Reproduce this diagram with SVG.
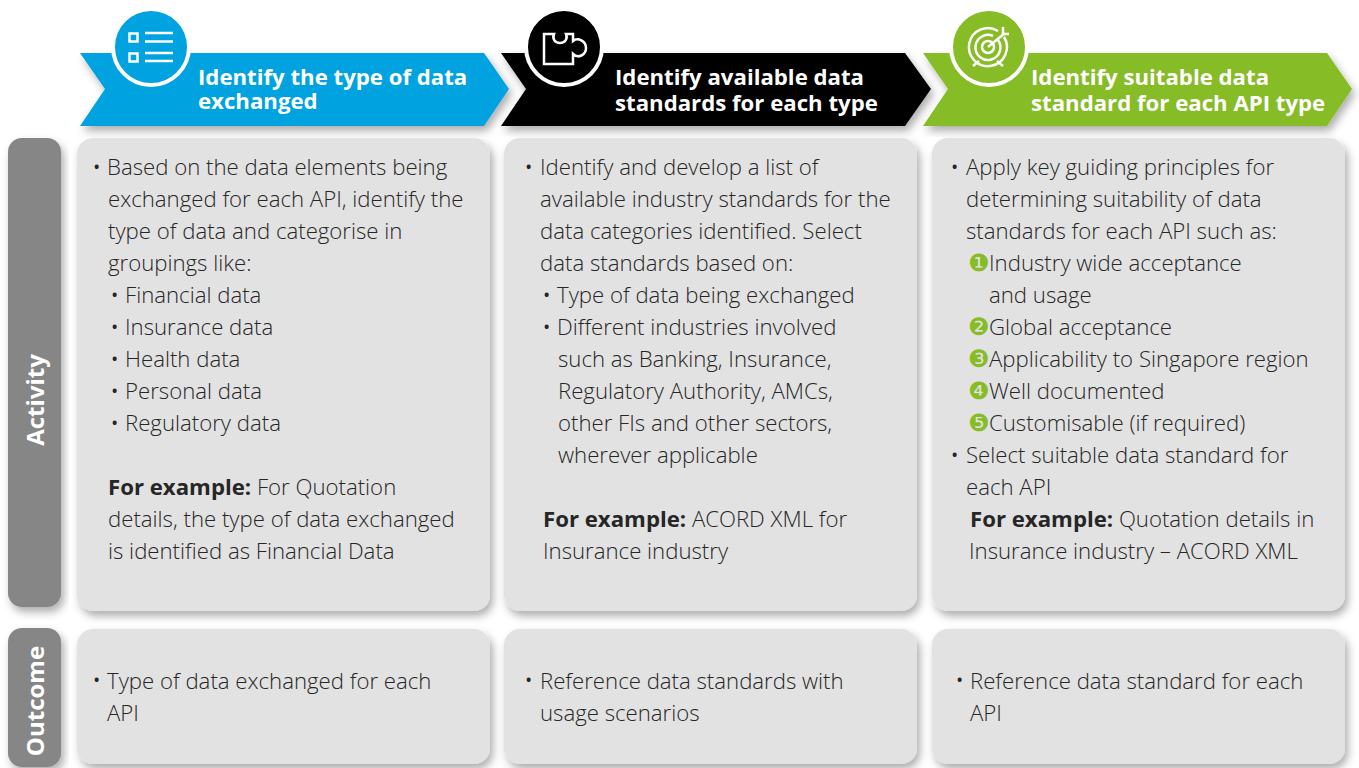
<svg xmlns="http://www.w3.org/2000/svg" width="1359" height="768" viewBox="0 0 1359 768">
<style>
text{font-family:"Open Sans","Noto Sans","Liberation Sans",sans-serif}
.h{font-size:22.2px;font-weight:700;fill:#fff}
.t{font-size:22.2px;font-weight:300;fill:#262626}
.t tspan.k{font-weight:700}
.b{font-size:14px;font-weight:700;fill:#262626}
.n{font-family:"DejaVu Sans",sans-serif;font-size:24px;fill:#86bc25}
.side{font-size:24px;font-weight:700;fill:#fff}
.card{fill:#e2e2e2;filter:url(#s)}
.sd{fill:#868686;filter:url(#s)}
.ring{stroke:#fff;stroke-width:4}
.ic{fill:none;stroke:#fff;stroke-width:2.5}
</style>
<defs>
<filter id="s" x="-10%" y="-10%" width="125%" height="125%"><feDropShadow dx="3" dy="5" stdDeviation="4" flood-color="#000" flood-opacity=".32"/></filter>
</defs>
<rect width="1359" height="768" fill="#fff"/>
<g id="head-1">
<path d="M80 53H484L509 89 484 126H80L105 89Z" fill="#00a3e0" filter="url(#s)"/>
<circle class="ring" cx="151" cy="47" r="38" fill="#00a3e0"/>
<g class="ic"><rect x="129.5" y="33.5" width="8" height="8"/><rect x="129.5" y="53.5" width="8" height="8"/><path d="M145 33h28M145 41.500h28M145 53h28M145 61h28"/></g>
<text class="h" x="198" y="85">Identify the type of data</text>
<text class="h" x="198" y="109">exchanged</text>
</g>
<g id="head-2">
<path d="M501 53H905L931 89 905 126H501L526 89Z" fill="#000" filter="url(#s)"/>
<circle class="ring" cx="564" cy="47" r="38" fill="#000"/>
<path class="ic" d="M544 34H554C552 39 555 43 560 43 565 43 568 39 566 34H573V41C578 37 586 41 586 48 586 55 578 59 573 54V64H544Z"/>
<text class="h" x="615" y="85">Identify available data</text>
<text class="h" x="615" y="111">standards for each type</text>
</g>
<g id="head-3">
<path d="M923 53H1327L1352 89 1327 126H923L948 89Z" fill="#86bc25" filter="url(#s)"/>
<circle class="ring" cx="989" cy="47" r="38" fill="#86bc25"/>
<g class="ic"><path d="M1004 37A19 19 0 1 1 998 31"/><path d="M998 40A12.500 12.500 0 1 1 993 36"/><circle cx="988" cy="47" r="6"/><path d="M988 47L1005 33M1003 27V34H1009M973 66L979 61M1003 66L997 61"/></g>
<text class="h" x="1031" y="85">Identify suitable data</text>
<text class="h" x="1031" y="111">standard for each API type</text>
</g>
<g id="side-activity">
<rect class="sd" x="8" y="138" width="53" height="469" rx="14"/>
<text class="side" transform="translate(44 400) rotate(-90)" text-anchor="middle">Activity</text>
</g>
<g id="side-outcome">
<rect class="sd" x="8" y="628" width="53" height="139" rx="14"/>
<text class="side" transform="translate(44 701) rotate(-90)" text-anchor="middle">Outcome</text>
</g>
<g id="card-a1">
<rect class="card" x="77" y="138" width="413" height="473" rx="16"/>
<text class="b" x="94" y="172">•</text>
<text class="t">
<tspan x="107" y="175">Based on the data elements being</tspan>
<tspan x="108" y="207">exchanged for each API, identify the</tspan>
<tspan x="108" y="239">type of data and categorise in</tspan>
<tspan x="108" y="271">groupings like:</tspan>
<tspan x="125" y="303">Financial data</tspan>
<tspan x="125" y="335">Insurance data</tspan>
<tspan x="125" y="367">Health data</tspan>
<tspan x="125" y="399">Personal data</tspan>
<tspan x="125" y="431">Regulatory data</tspan>
<tspan x="108" y="495" class="k">For example:</tspan><tspan> For Quotation</tspan>
<tspan x="108" y="527">details, the type of data exchanged</tspan>
<tspan x="108" y="559">is identified as Financial Data</tspan>
</text>
<text class="b" x="112" y="300">•</text><text class="b" x="112" y="332">•</text><text class="b" x="112" y="364">•</text><text class="b" x="112" y="396">•</text><text class="b" x="112" y="428">•</text>
</g>
<g id="card-a2">
<rect class="card" x="504" y="138" width="413" height="473" rx="16"/>
<text class="b" x="526" y="172">•</text>
<text class="t">
<tspan x="540" y="175">Identify and develop a list of</tspan>
<tspan x="540" y="207">available industry standards for the</tspan>
<tspan x="540" y="239">data categories identified. Select</tspan>
<tspan x="540" y="271">data standards based on:</tspan>
<tspan x="557" y="303">Type of data being exchanged</tspan>
<tspan x="557" y="335">Different industries involved</tspan>
<tspan x="558" y="367">such as Banking, Insurance,</tspan>
<tspan x="558" y="399">Regulatory Authority, AMCs,</tspan>
<tspan x="558" y="431">other FIs and other sectors,</tspan>
<tspan x="558" y="463">wherever applicable</tspan>
<tspan x="543" y="527" class="k">For example:</tspan><tspan> ACORD XML for</tspan>
<tspan x="543" y="559">Insurance industry</tspan>
</text>
<text class="b" x="544" y="300">•</text><text class="b" x="544" y="332">•</text>
</g>
<g id="card-a3">
<rect class="card" x="932" y="138" width="413" height="473" rx="16"/>
<text class="b" x="952" y="172">•</text>
<text class="t">
<tspan x="966" y="175">Apply key guiding principles for</tspan>
<tspan x="966" y="207">determining suitability of data</tspan>
<tspan x="966" y="239">standards for each API such as:</tspan>
<tspan x="989" y="271">Industry wide acceptance</tspan>
<tspan x="989" y="303">and usage</tspan>
<tspan x="989" y="335">Global acceptance</tspan>
<tspan x="989" y="367">Applicability to Singapore region</tspan>
<tspan x="989" y="399">Well documented</tspan>
<tspan x="989" y="431">Customisable (if required)</tspan>
<tspan x="966" y="463">Select suitable data standard for</tspan>
<tspan x="966" y="495">each API</tspan>
<tspan x="970" y="527" class="k">For example:</tspan><tspan> Quotation details in</tspan>
<tspan x="969" y="559">Insurance industry – ACORD XML</tspan>
</text>
<text class="b" x="952" y="460">•</text>
<text class="n" x="968" y="271">❶</text><text class="n" x="968" y="335">❷</text><text class="n" x="968" y="367">❸</text><text class="n" x="968" y="399">❹</text><text class="n" x="968" y="431">❺</text>
</g>
<g id="card-o1">
<rect class="card" x="77" y="629" width="413" height="135" rx="16"/>
<text class="b" x="94" y="685">•</text>
<text class="t"><tspan x="107" y="689">Type of data exchanged for each</tspan><tspan x="107" y="721">API</tspan></text>
</g>
<g id="card-o2">
<rect class="card" x="504" y="629" width="413" height="135" rx="16"/>
<text class="b" x="526" y="685">•</text>
<text class="t"><tspan x="540" y="689">Reference data standards with</tspan><tspan x="540" y="721">usage scenarios</tspan></text>
</g>
<g id="card-o3">
<rect class="card" x="932" y="629" width="413" height="135" rx="16"/>
<text class="b" x="957" y="685">•</text>
<text class="t"><tspan x="970" y="689">Reference data standard for each</tspan><tspan x="970" y="721">API</tspan></text>
</g>
</svg>
